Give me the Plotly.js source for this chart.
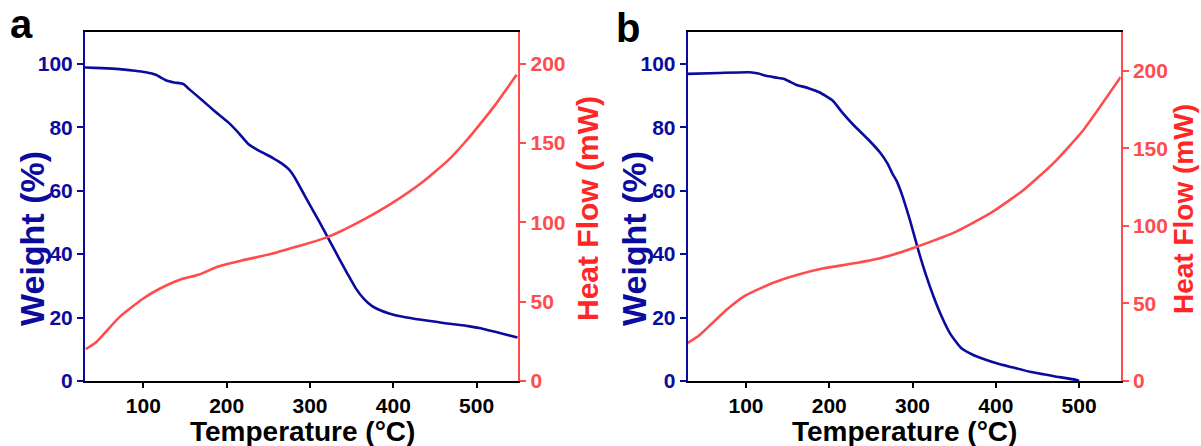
<!DOCTYPE html>
<html>
<head>
<meta charset="utf-8">
<script src="https://cdn.plot.ly/plotly-3.0.1.min.js"></script>
<style>html,body{margin:0;padding:0;background:#fff;}#chart{width:1201px;height:446px;}</style>
</head>
<body>
<div id="chart"></div>
<script>
// Panel a — TGA weight (%) vs temperature (°C)
const tempWeightA = [30, 50, 71, 90, 103, 115, 127, 137, 148, 155, 171, 185, 202, 215, 226, 236, 246, 256, 266, 275, 282, 290, 299, 310, 321, 335, 345, 355, 365, 375, 385, 395, 410, 425, 442, 460, 475, 490, 505, 514, 530, 549];
const weightA     = [98.8, 98.6, 98.3, 97.8, 97.3, 96.5, 94.8, 94.1, 93.6, 92.0, 88.4, 85.2, 81.5, 78.0, 74.7, 73.0, 71.6, 70.2, 68.6, 66.6, 64.0, 60.2, 55.9, 50.8, 45.4, 38.6, 33.8, 29.2, 25.8, 23.5, 22.2, 21.3, 20.3, 19.6, 19.0, 18.3, 17.8, 17.3, 16.6, 16.0, 15.0, 13.7];
// Panel a — heat flow (mW)
const tempHeatA = [31, 43, 71, 99, 119, 143, 167, 190, 218, 254, 275, 289, 321, 335, 367, 395, 434, 466, 486, 498, 520, 548];
const heatA     = [20.1, 24.2, 40.1, 51.7, 58.0, 63.7, 67.1, 72.2, 75.9, 80.2, 83.4, 85.4, 90.7, 93.9, 102.5, 111.0, 125.0, 139.2, 150.5, 158.0, 172.5, 193.0];

// Panel b — TGA weight (%)
const tempWeightB = [30, 68, 104, 115, 124, 135, 146, 153, 160, 175, 188, 204, 216, 228, 248, 261, 270, 276, 281, 287, 297, 307, 316, 325, 335, 345, 358, 373, 387, 401, 420, 441, 470, 497, 500];
const weightB     = [96.8, 97.1, 97.3, 96.9, 96.2, 95.7, 95.2, 94.3, 93.4, 92.3, 91.0, 88.4, 84.5, 81.0, 75.8, 72.0, 68.5, 65.3, 63.0, 59.0, 50.6, 41.2, 33.5, 26.8, 20.3, 15.0, 10.5, 8.2, 6.8, 5.6, 4.3, 2.9, 1.5, 0.3, 0.0];
// Panel b — heat flow (mW)
const tempHeatB = [30, 44, 76, 100, 132, 160, 192, 228, 260, 287, 305, 353, 393, 433, 469, 505, 550];
const heatB     = [24.5, 29.5, 45.6, 55.3, 63.2, 68.2, 72.5, 75.7, 79.0, 83.2, 86.5, 96.5, 108.0, 123.0, 140.3, 161.7, 196.0];

// Axis ticks and labels
const xTicks = [100, 200, 300, 400, 500];
const weightTicks = [0, 20, 40, 60, 80, 100];
const heatTicks = [0, 50, 100, 150, 200];
const panelLabels = ['a', 'b'];
const xTitle = 'Temperature (°C)';
const weightTitle = 'Weight (%)';
const heatTitle = 'Heat Flow (mW)';

const BLUE = '#0b0b9e';
const RED = '#ff4d4d';
const RED_TITLE = '#ff2626';
const FONT = 'Liberation Sans, Arial, sans-serif';
const W = 1201, H = 446;

const lineStyle = (c) => ({color: c, width: 2.6, shape: 'spline', smoothing: 0.5});
const traces = [
  {x: tempWeightA, y: weightA, xaxis: 'x', yaxis: 'y', mode: 'lines', line: lineStyle(BLUE), hoverinfo: 'skip'},
  {x: tempHeatA, y: heatA, xaxis: 'x', yaxis: 'y2', mode: 'lines', line: lineStyle(RED), hoverinfo: 'skip'},
  {x: tempWeightB, y: weightB, xaxis: 'x2', yaxis: 'y3', mode: 'lines', line: lineStyle(BLUE), hoverinfo: 'skip'},
  {x: tempHeatB, y: heatB, xaxis: 'x2', yaxis: 'y4', mode: 'lines', line: lineStyle(RED), hoverinfo: 'skip'}
];

const yDom = [1 - 381 / H, 1 - 32 / H];
const tickFont = (c) => ({family: FONT, size: 21, color: c, weight: 'bold'});

function xAxis(domain, anchor) {
  return {domain: domain, anchor: anchor, range: [30, 550], tickvals: xTicks, ticktext: xTicks.map(String),
    showline: true, linecolor: '#000', linewidth: 2, mirror: true, ticks: 'outside', ticklen: 5, tickwidth: 2,
    tickcolor: '#000', showgrid: false, zeroline: false, tickfont: tickFont('#000'), fixedrange: true};
}
function wAxis(anchor) {
  return {domain: yDom, anchor: anchor, range: [0, 110], tickvals: weightTicks, ticktext: weightTicks.map(String),
    showline: true, linecolor: BLUE, linewidth: 2, ticks: 'outside', ticklen: 6, tickwidth: 2, tickcolor: BLUE,
    showgrid: false, zeroline: false, tickfont: tickFont(BLUE), fixedrange: true};
}
function hAxis(anchor, overlay, top) {
  return {domain: yDom, anchor: anchor, overlaying: overlay, side: 'right', range: [0, top], tickvals: heatTicks,
    ticktext: heatTicks.map(String), showline: true, linecolor: RED, linewidth: 2, ticks: 'outside', ticklen: 6,
    tickwidth: 2, tickcolor: RED, showgrid: false, zeroline: false, tickfont: tickFont(RED), fixedrange: true};
}

function ann(text, px, py, size, color, angle, xanchor) {
  return {text: text, xref: 'paper', yref: 'paper', x: px / W, y: 1 - py / H, xanchor: xanchor || 'center',
    yanchor: 'middle', showarrow: false, textangle: angle || 0,
    font: {family: FONT, size: size, color: color, weight: 'bold'}};
}

const shift = 602;
const layout = {
  width: W, height: H, margin: {l: 0, r: 0, t: 0, b: 0}, paper_bgcolor: '#fff', plot_bgcolor: '#fff',
  showlegend: false,
  xaxis: xAxis([85 / W, 518.3 / W], 'y'),
  yaxis: wAxis('x'),
  yaxis2: hAxis('x', 'y', 220),
  xaxis2: xAxis([687.7 / W, 1120.7 / W], 'y3'),
  yaxis3: wAxis('x2'),
  yaxis4: hAxis('x2', 'y3', 225),
  annotations: [
    ann(panelLabels[0], 8, 24, 40, '#000', 0, 'left'),
    ann(panelLabels[1], 614, 28, 40, '#000', 0, 'left'),
    ann(xTitle, 302, 431, 28, '#000'),
    ann(xTitle, 302 + shift, 431, 28, '#000'),
    ann(weightTitle, 32, 239, 34, BLUE, -90),
    ann(weightTitle, 32 + shift, 239, 34, BLUE, -90),
    ann(heatTitle, 587, 209, 30, RED_TITLE, -90),
    ann(heatTitle, 1183, 209, 28, RED_TITLE, -90)
  ]
};

Plotly.newPlot('chart', traces, layout, {staticPlot: true, displayModeBar: false});
</script>
</body>
</html>
